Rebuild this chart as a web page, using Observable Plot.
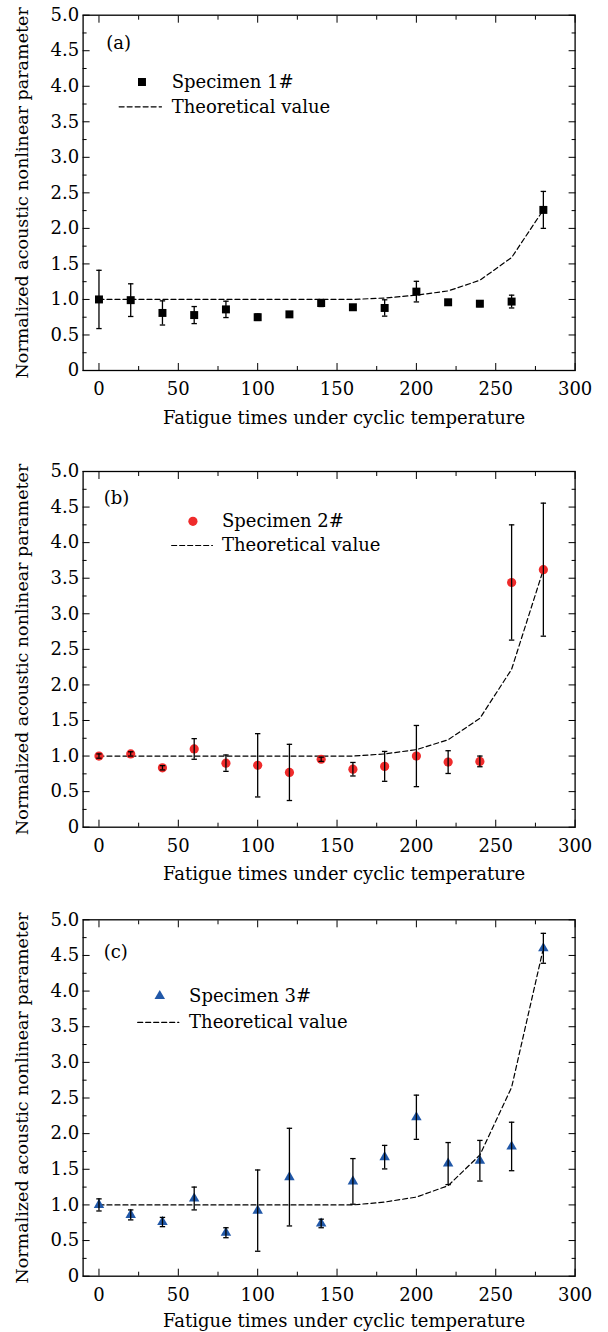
<!DOCTYPE html>
<html><head><meta charset="utf-8">
<script src="https://cdn.jsdelivr.net/npm/d3@7"></script>
<script src="https://cdn.jsdelivr.net/npm/@observablehq/plot@0.6"></script>
<style>
body{margin:0;background:#fff;}
svg{display:block;}
svg text{font-family:"DejaVu Serif","Liberation Serif",serif !important;}
</style>
</head><body><div id="chart"></div>
<script>
// Fatigue times (x)
const times = [0, 20, 40, 60, 80, 100, 120, 140, 160, 180, 200, 220, 240, 260, 280];

// Panel (a) Specimen 1#
const values1 = [1.00, 0.99, 0.81, 0.78, 0.86, 0.75, 0.79, 0.95, 0.89, 0.88, 1.11, 0.96, 0.94, 0.97, 2.26];
const errors1 = [0.41, 0.23, 0.17, 0.12, 0.115, 0.045, 0.025, 0.05, 0.02, 0.115, 0.145, 0.02, 0.04, 0.09, 0.26];
const theory1 = [1, 1, 1, 1, 1, 1, 1, 1.0, 1.0, 1.02, 1.06, 1.12, 1.27, 1.59, 2.26];

// Panel (b) Specimen 2#
const values2 = [1.00, 1.03, 0.835, 1.10, 0.90, 0.87, 0.77, 0.955, 0.815, 0.855, 1.00, 0.915, 0.925, 3.44, 3.62];
const errors2 = [0.03, 0.03, 0.03, 0.145, 0.115, 0.445, 0.395, 0.03, 0.095, 0.21, 0.43, 0.16, 0.075, 0.81, 0.935];
const theory2 = [1, 1, 1, 1, 1, 1, 1, 1.0, 1.0, 1.03, 1.09, 1.23, 1.53, 2.22, 3.62];

// Panel (c) Specimen 3#
const values3 = [1.00, 0.86, 0.76, 1.09, 0.61, 0.92, 1.39, 0.74, 1.33, 1.67, 2.23, 1.58, 1.62, 1.82, 4.60];
const errors3 = [0.085, 0.07, 0.065, 0.16, 0.07, 0.57, 0.685, 0.06, 0.32, 0.165, 0.31, 0.295, 0.285, 0.34, 0.21];
const theory3 = [1, 1, 1, 1, 1, 1, 1, 1.0, 1.0, 1.04, 1.11, 1.27, 1.70, 2.65, 4.60];

// Tick labels
const xTicks = [0, 50, 100, 150, 200, 250, 300];
const xMinor = [25, 75, 125, 175, 225, 275];
const yTicks = [0, 0.5, 1.0, 1.5, 2.0, 2.5, 3.0, 3.5, 4.0, 4.5, 5.0];
const yMinor = [0.25, 0.75, 1.25, 1.75, 2.25, 2.75, 3.25, 3.75, 4.25, 4.75];
const yTickLabels = ["0", "0.5", "1.0", "1.5", "2.0", "2.5", "3.0", "3.5", "4.0", "4.5", "5.0"];

const xTitle = "Fatigue times under cyclic temperature";
const yTitle = "Normalized acoustic nonlinear parameter";

// Legend text
const panelTags = ["(a)", "(b)", "(c)"];
const seriesNames = ["Specimen 1#", "Specimen 2#", "Specimen 3#"];
const theoryName = "Theoretical value";

const FONT = "'DejaVu Serif', 'Liberation Serif', serif";
const FS = 18;

const capSymbol = {
  draw(ctx, size) {
    const w = Math.sqrt(size / Math.PI);
    ctx.moveTo(-w, 0);
    ctx.lineTo(w, 0);
  }
};

const panels = [
  {values: values1, errors: errors1, theory: theory1, symbol: "square", fill: "#000", r: 4.5,
   height: 440, marginTop: 14.7, marginBottom: 70, titleOffset: 48,
   tagPos: [4.6, 4.61], markPos: [27.1, 4.06], textX: 45.8, dash: [12.7, 39.4, 3.71]},
  {values: values2, errors: errors2, theory: theory2, symbol: "circle", fill: "#ef2b2b", r: 4.6,
   height: 450, marginTop: 31, marginBottom: 63.3, titleOffset: 47.3,
   tagPos: [3.0, 4.62], markPos: [59.2, 4.30], textX: 77.5, dash: [45.8, 71.5, 3.96]},
  {values: values3, errors: errors3, theory: theory3, symbol: "triangle", fill: "#2158a8", r: 3.9,
   height: 442, marginTop: 29.3, marginBottom: 56.3, titleOffset: 45.3,
   tagPos: [3.0, 4.55], markPos: [38.3, 3.93], textX: 56.8, dash: [24.4, 50.3, 3.56]}
];

const root = document.getElementById("chart");

panels.forEach((p, i) => {
  const data = times.map((t, j) => ({t, v: p.values[j], e: p.errors[j], th: p.theory[j]}));
  const chart = Plot.plot({
    width: 608,
    height: p.height,
    marginLeft: 82.6,
    marginRight: 33.4,
    marginTop: p.marginTop,
    marginBottom: p.marginBottom,
    style: {fontFamily: FONT, fontSize: FS + "px", background: "#fff", color: "#000"},
    x: {domain: [-10, 300]},
    y: {domain: [0, 5]},
    marks: [
      // tick labels
      Plot.axisX(xTicks, {anchor: "bottom", tickSize: 0, tickPadding: 12, fontSize: FS, label: null, tickFormat: d => String(d)}),
      Plot.axisY(yTicks, {anchor: "left", tickSize: 0, tickPadding: 4, fontSize: FS, label: null, tickFormat: d => yTickLabels[yTicks.indexOf(d)]}),
      // inward ticks
      Plot.axisX(xTicks, {anchor: "bottom", tickSize: -7, text: null, label: null}),
      Plot.axisX(xMinor, {anchor: "bottom", tickSize: -4, text: null, label: null}),
      Plot.axisX(xTicks, {anchor: "top", tickSize: -7, text: null, label: null}),
      Plot.axisX(xMinor, {anchor: "top", tickSize: -4, text: null, label: null}),
      Plot.axisY(yTicks, {anchor: "left", tickSize: -7, text: null, label: null}),
      Plot.axisY(yMinor, {anchor: "left", tickSize: -4, text: null, label: null}),
      Plot.axisY(yTicks, {anchor: "right", tickSize: -7, text: null, label: null}),
      Plot.axisY(yMinor, {anchor: "right", tickSize: -4, text: null, label: null}),
      Plot.frame({stroke: "#000", strokeWidth: 1.3}),
      // axis titles
      Plot.text([xTitle], {frameAnchor: "bottom", lineAnchor: "middle", textAnchor: "middle", dy: p.titleOffset, dx: 15, fontSize: FS, text: d => d}),
      Plot.text([yTitle], {frameAnchor: "left", lineAnchor: "middle", textAnchor: "middle", dx: -61, rotate: -90, fontSize: FS - 0.5, text: d => d}),
      // theoretical line
      Plot.line(data, {x: "t", y: "th", stroke: "#000", strokeWidth: 1.2, strokeDasharray: "5,3"}),
      // markers
      Plot.dot(data, {x: "t", y: "v", symbol: p.symbol, r: p.r, fill: p.fill, stroke: "none"}),
      // error bars
      Plot.ruleX(data, {x: "t", y1: d => d.v - d.e, y2: d => d.v + d.e, stroke: "#000", strokeWidth: 1.3}),
      Plot.dot(data, {x: "t", y: d => d.v + d.e, symbol: capSymbol, r: 2.7, stroke: "#000", strokeWidth: 1.3, fill: "none"}),
      Plot.dot(data, {x: "t", y: d => d.v - d.e, symbol: capSymbol, r: 2.7, stroke: "#000", strokeWidth: 1.3, fill: "none"}),
      // legend / panel tag
      Plot.text([panelTags[i]], {x: p.tagPos[0], y: p.tagPos[1], textAnchor: "start", fontSize: FS, text: d => d}),
      Plot.dot([p.markPos], {x: d => d[0], y: d => d[1], symbol: p.symbol, r: p.r, fill: p.fill, stroke: "none"}),
      Plot.text([seriesNames[i]], {x: p.textX, y: p.markPos[1], textAnchor: "start", fontSize: FS, text: d => d}),
      Plot.line([[p.dash[0], p.dash[2]], [p.dash[1], p.dash[2]]], {x: d => d[0], y: d => d[1], stroke: "#000", strokeWidth: 1.2, strokeDasharray: "5,3"}),
      Plot.text([theoryName], {x: p.textX, y: p.dash[2], textAnchor: "start", fontSize: FS, text: d => d})
    ]
  });
  root.appendChild(chart);
});
</script>
</body></html>
